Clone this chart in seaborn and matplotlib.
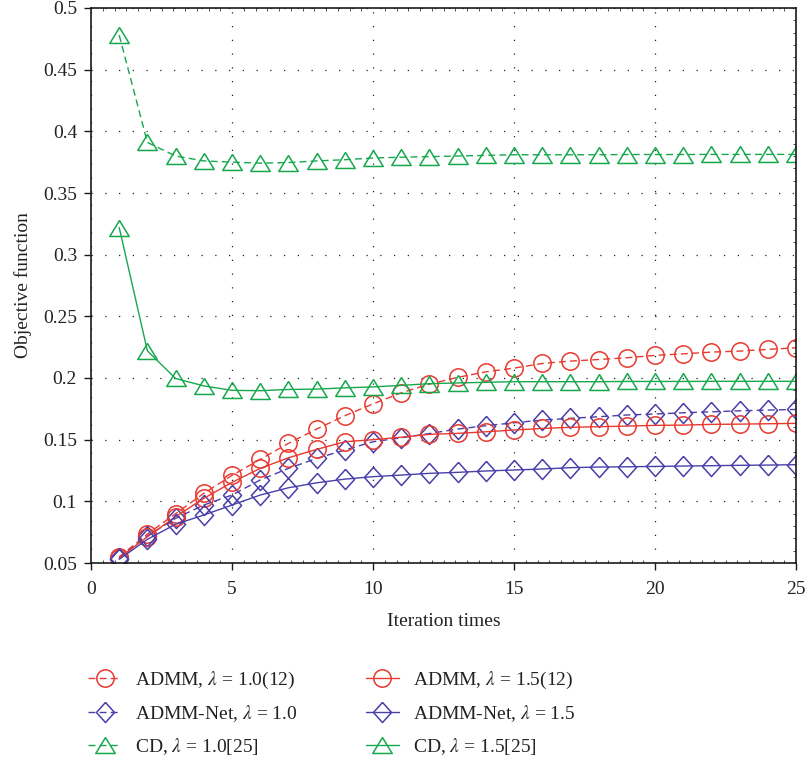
import numpy as np
import pandas as pd
import matplotlib
matplotlib.use("Agg")
import matplotlib.pyplot as plt
from matplotlib.ticker import FixedLocator, AutoMinorLocator
from matplotlib.lines import Line2D
import seaborn as sns

# Iteration index
iterations = list(range(1, 26))

# Objective function values per method
admm_lam10 = [0.055, 0.0735, 0.090, 0.1065, 0.121, 0.134, 0.147, 0.1586, 0.1694, 0.179,
              0.188, 0.195, 0.2005, 0.205, 0.208, 0.2118, 0.2137, 0.215, 0.2164, 0.2183,
              0.2196, 0.221, 0.2218, 0.2232, 0.2245]
admm_lam15 = [0.054, 0.0713, 0.0875, 0.1024, 0.1154, 0.1267, 0.1353, 0.1421, 0.1483, 0.150,
              0.152, 0.1543, 0.1551, 0.1564, 0.1578, 0.1591, 0.160, 0.1605, 0.161, 0.1616,
              0.1618, 0.1624, 0.1626, 0.1629, 0.1632]
net_lam10 = [0.054, 0.072, 0.0862, 0.097, 0.1051, 0.1173, 0.1267, 0.1348, 0.1416, 0.1483,
             0.1515, 0.155, 0.1586, 0.1613, 0.1637, 0.1659, 0.1673, 0.1686, 0.170, 0.1708,
             0.1718, 0.1726, 0.1734, 0.174, 0.1745]
net_lam15 = [0.053, 0.0692, 0.0814, 0.0889, 0.097, 0.1051, 0.1110, 0.1150, 0.1180, 0.1200,
             0.1213, 0.1227, 0.1235, 0.1246, 0.1254, 0.1262, 0.1273, 0.1278, 0.128, 0.1283,
             0.1286, 0.1289, 0.1292, 0.1294, 0.1297]
cd_lam10 = [0.478, 0.391, 0.380, 0.376, 0.375, 0.3742, 0.3747, 0.376, 0.377, 0.3784,
            0.379, 0.3795, 0.380, 0.3805, 0.381, 0.381, 0.381, 0.381, 0.3812, 0.3812,
            0.3812, 0.3813, 0.3813, 0.3813, 0.3813]
cd_lam15 = [0.322, 0.222, 0.1996, 0.1936, 0.190, 0.1897, 0.1907, 0.191, 0.192, 0.1928,
            0.194, 0.1954, 0.196, 0.1965, 0.197, 0.197, 0.197, 0.197, 0.1972, 0.1972,
            0.1972, 0.1973, 0.1973, 0.1973, 0.1973]

series_labels = [
    r"ADMM, $\lambda$ = 1.0(12)",
    r"ADMM-Net, $\lambda$ = 1.0",
    r"CD, $\lambda$ = 1.0[25]",
    r"ADMM, $\lambda$ = 1.5(12)",
    r"ADMM-Net, $\lambda$ = 1.5",
    r"CD, $\lambda$ = 1.5[25]",
]

x_ticks = [0, 5, 10, 15, 20, 25]
y_ticks = [0.05, 0.1, 0.15, 0.2, 0.25, 0.3, 0.35, 0.4, 0.45, 0.5]
y_tick_labels = ["0.05", "0.1", "0.15", "0.2", "0.25", "0.3", "0.35", "0.4", "0.45", "0.5"]

sns.set_theme(style="white")
plt.rcParams["font.family"] = ["Liberation Serif", "DejaVu Serif"]
plt.rcParams["mathtext.fontset"] = "stix"

RED = "#E8392F"
BLUE = "#4A3FA8"
GREEN = "#17A84E"
TEXT = "#222222"
FS = 14

# flattened triangle marker
tri = [(0, 0.82), (-1, -0.82), (1, -0.82), (0, 0.82)]
# slightly tall diamond marker
dia = [(0, 1), (-0.9, 0), (0, -1), (0.9, 0), (0, 1)]

styles = [
    (admm_lam10, RED, "o", 12.5, (0, (5, 3))),
    (net_lam10, BLUE, dia, 14.5, (0, (5, 3))),
    (cd_lam10, GREEN, tri, 14, (0, (5, 3))),
    (admm_lam15, RED, "o", 12.5, "-"),
    (net_lam15, BLUE, dia, 14.5, "-"),
    (cd_lam15, GREEN, tri, 14, "-"),
]

fig = plt.figure(figsize=(8.08, 7.64), dpi=100)
ax = fig.add_axes([91 / 808, 1 - 563 / 764, 705 / 808, 555 / 764])

handles = []
for (vals, col, mk, ms, ls), lab in zip(styles, series_labels):
    df = pd.DataFrame({"iter": iterations, "obj": vals})
    sns.lineplot(data=df, x="iter", y="obj", ax=ax, color=col, linestyle=ls,
                 linewidth=1.0, marker=mk, markersize=ms, markerfacecolor="none",
                 markeredgecolor=col, markeredgewidth=1.1, legend=False)
    handles.append(Line2D([], [], color=col, linestyle=ls, linewidth=1.0, marker=mk,
                          markersize=ms, markerfacecolor="none", markeredgecolor=col,
                          markeredgewidth=1.1, label=lab))

ax.set_xlim(0, 25)
ax.set_ylim(0.05, 0.5)
ax.xaxis.set_major_locator(FixedLocator(x_ticks))
ax.set_xticklabels([str(t) for t in x_ticks])
ax.yaxis.set_major_locator(FixedLocator(y_ticks))
ax.set_yticklabels(y_tick_labels)
ax.xaxis.set_minor_locator(AutoMinorLocator(12))
ax.yaxis.set_minor_locator(AutoMinorLocator(5))

ax.grid(True, which="major", color="#222222", linestyle=(0, (1, 10)), linewidth=0.9)
ax.tick_params(which="major", direction="out", length=5, width=1.0, color="k",
               labelsize=FS, labelcolor=TEXT, pad=5,
               left=True, bottom=True, top=False, right=False)
ax.tick_params(axis="x", which="major", pad=8)
ax.tick_params(which="minor", direction="in", length=2.5, width=0.6, color="#333333",
               left=False, bottom=True, top=True, right=True)
for s in ax.spines.values():
    s.set_visible(True)
    s.set_color("#1a1a1a")
    s.set_linewidth(1.2)

ax.set_xlabel("Iteration times", fontsize=FS, color=TEXT, labelpad=11)
ax.set_ylabel("Objective function", fontsize=FS, color=TEXT, labelpad=8)

fig.legend(handles=handles, ncol=2, frameon=False, loc="upper left",
           bbox_to_anchor=(88 / 808, 1 - 670 / 764), fontsize=FS,
           handlelength=1.7, handletextpad=0.72, columnspacing=3.5,
           labelspacing=0.62, borderpad=0, borderaxespad=0, numpoints=1,
           labelcolor=TEXT)

fig.savefig("out.png", dpi=100, facecolor="white")
